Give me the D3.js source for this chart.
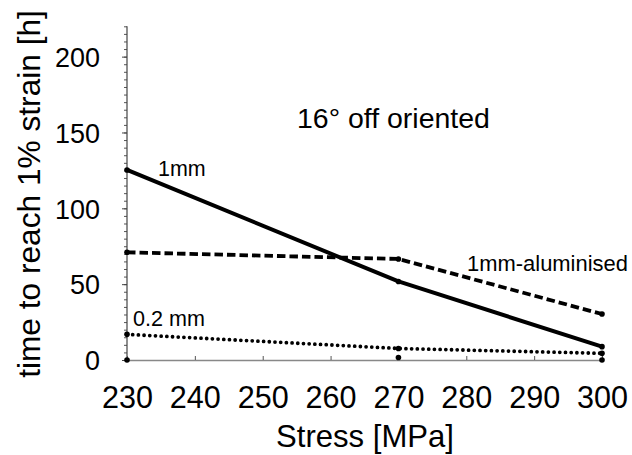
<!DOCTYPE html>
<html>
<head>
<meta charset="utf-8">
<script src="https://cdn.jsdelivr.net/npm/d3@7/dist/d3.min.js"></script>
<style>
html,body{margin:0;padding:0;background:#fff;}
svg{display:block;font-family:"Liberation Sans",Arial,sans-serif;}
</style>
</head>
<body>
<svg id="chart" width="632" height="455"></svg>
<script>
// Data
const stress = [230, 270, 300];
const s1mm = [125.3, 51.8, 8.8];
const s1mmAl = [71, 66.6, 30.3];
const s02mm = [16.9, 7.6, 4.4];
const sBase = [0, 1.6, 0];
const xTicks = [230, 240, 250, 260, 270, 280, 290, 300];
const yTicks = [0, 50, 100, 150, 200];

const svg = d3.select("#chart");
const x = d3.scaleLinear().domain([230, 300]).range([127, 602]);
const y = d3.scaleLinear().domain([0, 220]).range([360, 26.3]);

// scale font so that the text width matches a target width
function fit(sel, fs, target) {
  sel.attr("font-size", fs);
  const n = sel.node();
  const w = n.getComputedTextLength();
  if (w > 0) sel.attr("font-size", fs * target / w);
  return sel;
}

// Y axis minor ticks
const yMinor = d3.range(0, 221, 5);
const yAxisMinor = d3.axisLeft(y).tickValues(yMinor).tickSize(3).tickFormat("");
const gyMinor = svg.append("g").attr("transform", `translate(${x(230)},0)`).call(yAxisMinor);
gyMinor.select(".domain").remove();
gyMinor.selectAll("line").attr("stroke", "#555");

const yAxis = d3.axisLeft(y).tickValues(yTicks).tickSize(5).tickPadding(22);
const gy = svg.append("g").attr("transform", `translate(${x(230)},0)`).call(yAxis);
gy.select(".domain").attr("stroke", "#444").attr("stroke-width", 1.2).attr("d", `M0,${y(220)}V${y(0)}`);
gy.selectAll("line").attr("stroke", "#444");
gy.selectAll("text").attr("font-family", "Liberation Sans, Arial, sans-serif").attr("fill", "#000").attr("dy", "0.36em");
// size from the "200" label width
{
  const t = gy.selectAll("text").filter(d => d === 200);
  fit(t, 27, 45);
  const fs = +t.attr("font-size");
  gy.selectAll("text").attr("font-size", fs);
}

const xAxis = d3.axisBottom(x).tickValues(xTicks).tickSizeInner(-4).tickSizeOuter(0).tickPadding(0);
const gx = svg.append("g").attr("transform", `translate(0,${y(0)})`).call(xAxis);
gx.select(".domain").attr("stroke", "#888").attr("stroke-width", 1.5);
gx.selectAll("line").attr("stroke", "#555");
gx.selectAll("text").attr("font-family", "Liberation Sans, Arial, sans-serif").attr("fill", "#000").attr("dy", null).attr("y", 48);
{
  const t = gx.selectAll("text").filter(d => d === 230);
  fit(t, 30, 51);
  const fs = +t.attr("font-size");
  gx.selectAll("text").attr("font-size", fs);
}

// Lines
const line = d3.line().x(d => x(d[0])).y(d => y(d[1]));
function series(vals, dash, width, cap) {
  const pts = stress.map((s, i) => [s, vals[i]]);
  svg.append("path").datum(pts).attr("d", line).attr("fill", "none")
    .attr("stroke", "#000").attr("stroke-width", width)
    .attr("stroke-dasharray", dash).attr("stroke-linecap", cap).attr("stroke-linejoin", "round");
  svg.append("g").selectAll("circle").data(pts).join("circle")
    .attr("cx", d => x(d[0])).attr("cy", d => y(d[1])).attr("r", 2.8).attr("fill", "#000");
}
series(s1mm, null, 4, "butt");
series(s1mmAl, "8.5 4", 3.8, "butt");
series(s02mm, "0 5.7", 3.8, "round");
svg.append("g").selectAll("circle").data(stress.map((s, i) => [s, sBase[i]])).join("circle")
  .attr("cx", d => x(d[0])).attr("cy", d => y(d[1])).attr("r", 2.8).attr("fill", "#000");

// Labels
const lab = (t, xx, yy, fs, target, anchor) => fit(svg.append("text").attr("x", xx).attr("y", yy)
  .attr("text-anchor", anchor || "start").attr("fill", "#000").text(t), fs, target);
lab("1mm", 158, 176, 21.5, 47.7);
lab("1mm-aluminised", 467, 271, 21.5, 161);
lab("0.2 mm", 133, 326, 21.5, 72);
lab("16° off oriented", 297, 128, 25.5, 193);
lab("Stress [MPa]", 365, 447, 30.5, 178, "middle");
fit(svg.append("text").attr("transform", "translate(40,194) rotate(-90)")
  .attr("text-anchor", "middle").attr("fill", "#000")
  .text("time to reach 1% strain [h]"), 32, 368);
</script>
</body>
</html>
